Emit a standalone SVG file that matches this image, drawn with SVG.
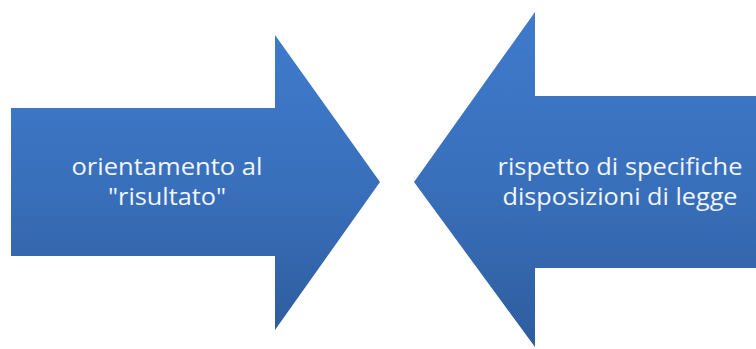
<svg xmlns="http://www.w3.org/2000/svg" width="756" height="349" viewBox="0 0 756 349">
  <defs>
    <linearGradient id="gl" x1="0" y1="0" x2="0" y2="1">
      <stop offset="0" stop-color="#3F7ACB"/>
      <stop offset="0.5" stop-color="#3970BC"/>
      <stop offset="1" stop-color="#2F5D9E"/>
    </linearGradient>
  </defs>
  <style>
    .shape { stroke: none; fill: url(#gl); }
    .lbl { font-family: "Open Sans", "Noto Sans", "Liberation Sans", sans-serif; font-size: 23.5px; fill: #F2F6FB; text-anchor: middle; }
  </style>
  <rect width="756" height="349" fill="#FFFFFF"/>
  <g id="arrow-left">
    <polygon class="shape" points="11,108 275,108 275,35 380,182 275,330 275,256 11,256"/>
    <text class="lbl" x="167" y="175" textLength="191" lengthAdjust="spacingAndGlyphs">orientamento al</text>
    <text class="lbl" x="167" y="205" textLength="118" lengthAdjust="spacingAndGlyphs">"risultato"</text>
  </g>
  <g id="arrow-right">
    <polygon class="shape" points="756,96 535,96 535,12 414,182 535,347 535,268 756,268"/>
    <text class="lbl" x="620" y="175" textLength="245" lengthAdjust="spacingAndGlyphs">rispetto di specifiche</text>
    <text class="lbl" x="620" y="205" textLength="235" lengthAdjust="spacingAndGlyphs">disposizioni di legge</text>
  </g>
  <g id="connectors"></g>
</svg>
